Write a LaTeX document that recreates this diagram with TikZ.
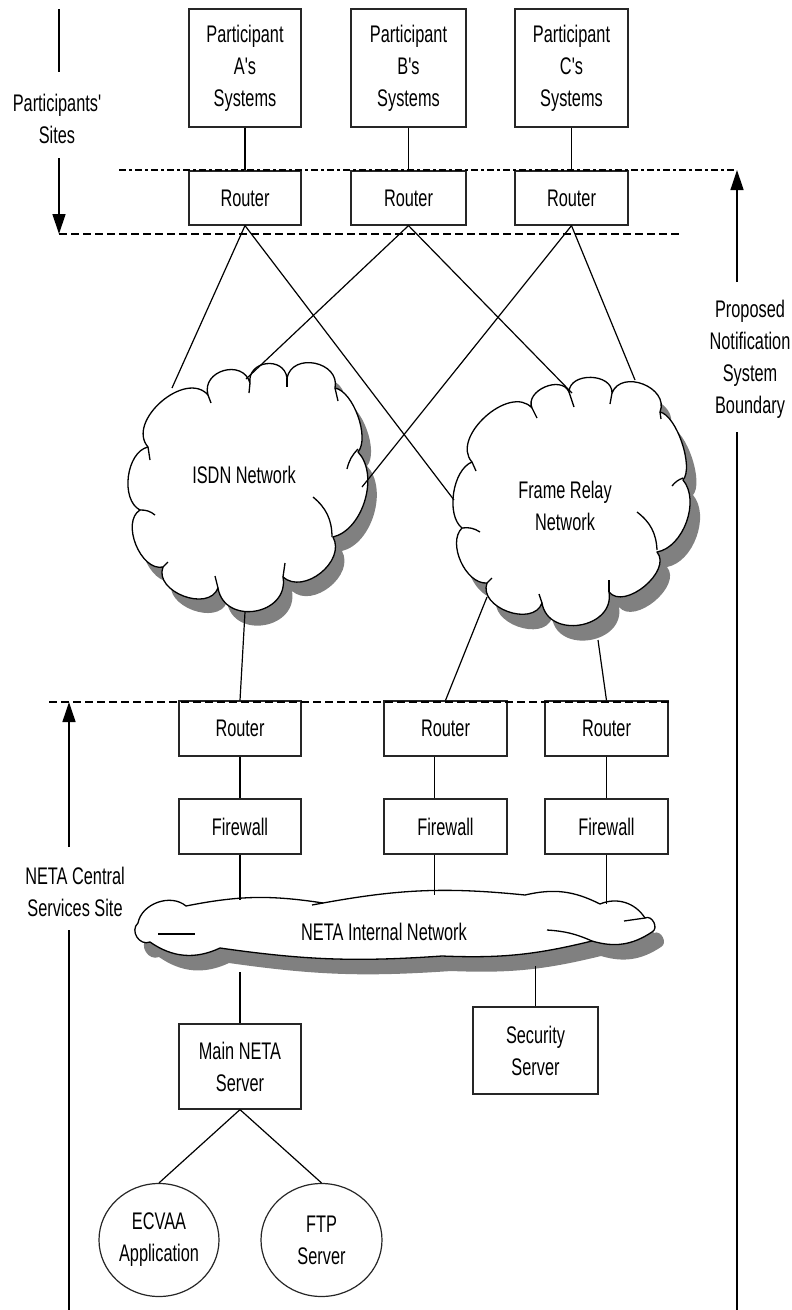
\documentclass[tikz,border=0pt]{standalone}
\usepackage{fontspec}
\newfontfamily\narrowfont[FakeStretch=0.68]{Liberation Sans}
\usetikzlibrary{arrows.meta,calc,shapes.geometric}
\tikzset{
  lbl/.style={font=\narrowfont\fontsize{24}{32}\selectfont, align=center, inner sep=0pt},
  box/.style={lbl, draw=black!85, line width=1.2pt},
  conn/.style={line width=1.2pt},
  arr/.style={line width=1.3pt, -{Triangle[length=20pt,width=13pt]}},
  dashdotline/.style={line width=1.3pt, dash pattern=on 7pt off 3pt on 3pt off 3pt},
  dashline/.style={line width=1.3pt, dash pattern=on 8pt off 4pt},
  cloudline/.style={line width=1.3pt, fill=white, line join=round},
  crease/.style={line width=1.3pt},
  shadowfill/.style={fill=black!50}
}
\def\isdnpath{(148,447) to[bend left=90,looseness=1.1] (208,395)
 to[bend left=90,looseness=1.5] (250,383)
 to[bend left=90,looseness=1.55] (287,378)
 to[bend left=90,looseness=1.4] (335,388)
 to[bend left=60,looseness=0.7] (358,452)
 to[bend left=60,looseness=0.9] (333,537)
 to[bend left=80,looseness=1.1] (283,577)
 to[bend left=90,looseness=1.5] (218,588)
 to[bend left=90,looseness=1.15] (163,567)
 to[bend left=80,looseness=0.95] (140,510)
 to[bend left=70,looseness=0.9] (148,447) -- cycle}
\def\frpath{(472,462) to[bend left=90,looseness=1.05] (532,408)
 to[bend left=90,looseness=1.2] (569,392)
 to[bend left=90,looseness=1.2] (612,393)
 to[bend left=90,looseness=1.3] (660,412)
 to[bend left=60,looseness=0.6] (683,480)
 to[bend left=60,looseness=0.9] (657,552)
 to[bend left=90,looseness=1.0] (609,592)
 to[bend left=90,looseness=1.4] (542,603)
 to[bend left=90,looseness=1.15] (487,583)
 to[bend left=70,looseness=0.9] (462,528)
 to[bend left=60,looseness=0.8] (472,462) -- cycle}
\def\netapath{(138,923) to[bend left=60,looseness=1.0] (186,906)
 to[bend left=10] (323,903)
 to[bend left=8] (525,895)
 to[bend left=20] (600,904)
 to[bend left=40] (645,918)
 to[bend left=90,looseness=1.3] (652,932)
 to[bend left=25] (592,941)
 to[bend left=8] (442,956)
 to[bend left=6] (220,948)
 to[bend left=30] (150,942)
 to[bend left=80,looseness=1.3] (138,923) -- cycle}
\begin{document}
\begin{tikzpicture}[x=1pt,y=-1pt]
\useasboundingbox (0,0) rectangle (792,1310);

% ---------- clouds ----------
\begin{scope}[shift={(9,14)}]
  \fill[shadowfill] \isdnpath;
\end{scope}
\draw[cloudline] \isdnpath;
\foreach \a/\b in {{(208,395)}/{(211,403)},{(250,383)}/{(249,393)},{(287,378)}/{(287,387)},{(335,388)}/{(338,401)},{(283,577)}/{(285,563)},{(218,588)}/{(215,576)},{(163,567)}/{(168,562)},{(148,447)}/{(150,460)}}
  \draw[crease] \a -- \b;
\draw[crease] (358,449) to[bend right=15] (347,469);
\draw[crease] (313,497) to[bend left=25] (332,537);
\draw[crease] (140,510) to[bend left=20] (155,515);

\begin{scope}[shift={(10,15)}]
  \fill[shadowfill] \frpath;
\end{scope}
\draw[cloudline] \frpath;
\foreach \a/\b in {{(472,462)}/{(476,471)},{(532,408)}/{(537,418)},{(569,392)}/{(574,407)},{(612,393)}/{(610,404)},{(660,412)}/{(661,419)},{(609,592)}/{(609,580)},{(542,603)}/{(539,594)},{(487,583)}/{(492,578)}}
  \draw[crease] \a -- \b;
\draw[crease] (683,478) to[bend right=15] (672,486);
\draw[crease] (637,512) to[bend left=25] (657,550);
\draw[crease] (462,528) to[bend left=20] (480,532);

\begin{scope}[shift={(9,15)}]
  \fill[shadowfill] \netapath;
\end{scope}
\draw[cloudline] \netapath;
\draw[crease] (323,903) -- (312,905);
\draw[crease] (645,918) -- (624,921);
\draw[crease] (592,941) to[bend right=10] (547,930);
\draw[crease] (158,934) -- (195,934);

\node[lbl] (isdnt) at (244,475) {ISDN Network};
\node[lbl] (frt) at (565,506) {Frame Relay\\Network};
\node[lbl] (netat) at (384,932) {NETA Internal Network};

% ---------- cloud attach points ----------
\coordinate (iA) at (172,388);
\coordinate (iB) at (246,379);
\coordinate (iC) at (362,487);
\coordinate (iBot) at (245,612);
\coordinate (fA) at (454,500);
\coordinate (fB) at (572,393);
\coordinate (fC) at (635,380);
\coordinate (fBL) at (487,597);
\coordinate (fBR) at (598,640);
\coordinate (n1) at (240,900);
\coordinate (n2) at (434.5,895);
\coordinate (n3) at (606.5,904);
\coordinate (n4) at (240,972);
\coordinate (n5) at (535.5,966);

% ---------- participant side ----------
\node[box, minimum width=112pt, minimum height=118pt] (pa) at (245,68) {Participant\\A's\\Systems};
\node[box, minimum width=115pt, minimum height=118pt] (pb) at (408.5,68) {Participant\\B's\\Systems};
\node[box, minimum width=113pt, minimum height=118pt] (pc) at (571.5,68) {Participant\\C's\\Systems};
\node[box, minimum width=112pt, minimum height=54pt] (ra) at (245,198) {Router};
\node[box, minimum width=115pt, minimum height=54pt] (rb) at (408.5,198) {Router};
\node[box, minimum width=113pt, minimum height=54pt] (rc) at (571.5,198) {Router};
\draw[conn] (pa) -- (ra);
\draw[conn] (pb) -- (rb);
\draw[conn] (pc) -- (rc);

\draw[conn] (ra.south) -- (iA);
\draw[conn] (ra.south) -- (fA);
\draw[conn] (rb.south) -- (iB);
\draw[conn] (rb.south) -- (fB);
\draw[conn] (rc.south) -- (iC);
\draw[conn] (rc.south) -- (fC);

% ---------- central site ----------
\node[box, minimum width=122pt, minimum height=55pt] (r1) at (240,728.5) {Router};
\node[box, minimum width=123pt, minimum height=55pt] (r2) at (445.5,728.5) {Router};
\node[box, minimum width=123pt, minimum height=55pt] (r3) at (606.5,728.5) {Router};
\node[box, minimum width=122pt, minimum height=55pt] (w1) at (240,826.5) {Firewall};
\node[box, minimum width=123pt, minimum height=55pt] (w2) at (445.5,826.5) {Firewall};
\node[box, minimum width=123pt, minimum height=55pt] (w3) at (606.5,826.5) {Firewall};
\node[box, minimum width=122pt, minimum height=85pt] (main) at (240,1066.5) {Main NETA\\Server};
\node[box, minimum width=125pt, minimum height=87pt] (sec) at (535.5,1050.5) {Security\\Server};
\node[lbl, draw=black!85, line width=1.2pt, ellipse, minimum width=120pt, minimum height=113pt] (ecv) at (159,1240) {ECVAA\\Application};
\node[lbl, draw=black!85, line width=1.2pt, ellipse, minimum width=121pt, minimum height=113pt] (ftp) at (321.5,1240) {FTP\\Server};

\draw[conn] (iBot) -- (r1.north);
\draw[conn] (fBL) -- (r2.north);
\draw[conn] (fBR) -- (r3.north);
\draw[conn] (r1) -- (w1);
\draw[conn] ([xshift=-11pt]r2.south) -- ([xshift=-11pt]w2.north);
\draw[conn] (r3) -- (w3);
\draw[conn] (w1) -- (n1);
\draw[conn] ([xshift=-11pt]w2.south) -- (n2);
\draw[conn] (w3) -- (n3);
\draw[conn] (n4) -- (main);
\draw[conn] (n5) -- (sec);
\draw[conn] (main.south) -- (ecv.north);
\draw[conn] (main.south) -- (ftp.north);

% ---------- boundaries and labels ----------
\coordinate (d1a) at (119,170);
\coordinate (d1b) at (737,170);
\coordinate (d2a) at (59,234);
\coordinate (d2b) at (679,234);
\coordinate (d3a) at (49,702);
\coordinate (d3b) at (670,702);
\draw[dashdotline] (d1a) -- (d1b);
\draw[dashline] (d2a) -- (d2b);
\draw[dashline] (d3a) -- (d3b);

\node[lbl] (sites) at (57,119) {Participants'\\Sites};
\coordinate (s1) at (59,9);
\coordinate (s2) at (59,72);
\coordinate (s3) at (59,158);
\draw[conn, line width=1.3pt] (s1) -- (s2);
\draw[arr] (s3) -- (d2a);

\node[lbl] (bound) at (750,359) {Proposed\\Notification\\System\\Boundary};
\coordinate (b1) at (737,282);
\coordinate (b2) at (737,432);
\coordinate (b3) at (737,1310);
\draw[arr] (b1) -- (d1b);
\draw[conn, line width=1.3pt] (b2) -- (b3);

\node[lbl] (central) at (75,892) {NETA Central\\Services Site};
\coordinate (c1) at (69,847);
\coordinate (c0) at (69,702);
\coordinate (c2) at (69,930);
\coordinate (c3) at (69,1310);
\draw[arr] (c1) -- (c0);
\draw[conn, line width=1.3pt] (c2) -- (c3);
\end{tikzpicture}
\end{document}
